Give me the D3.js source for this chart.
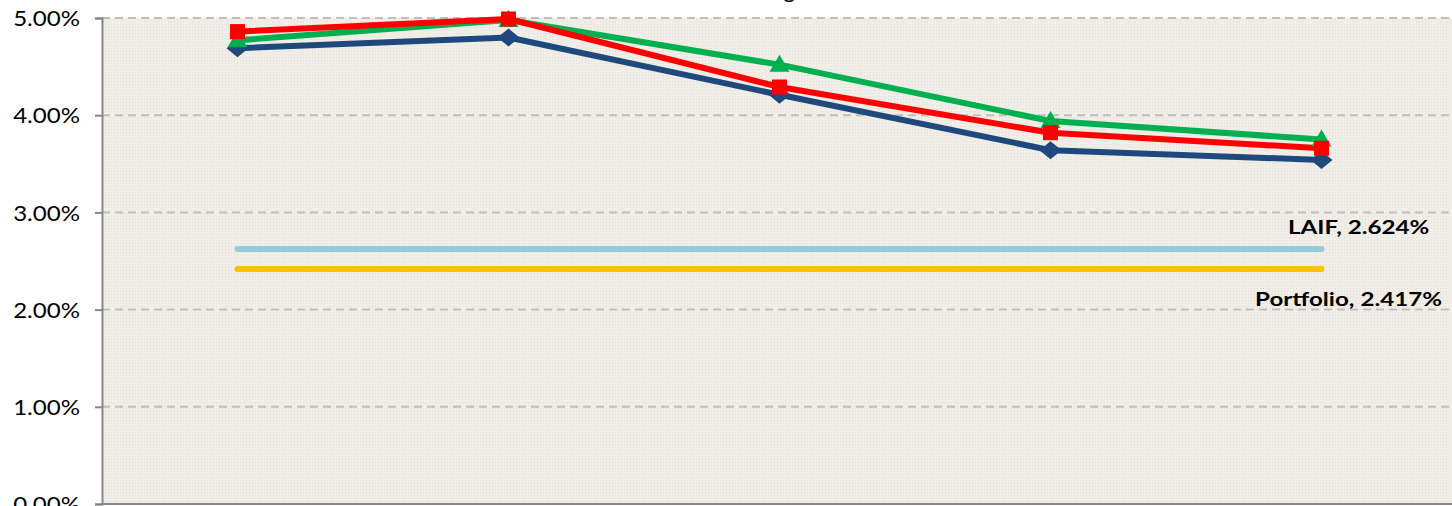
<!DOCTYPE html>
<html>
<head>
<meta charset="utf-8">
<script src="https://cdn.jsdelivr.net/npm/d3@7"></script>
<style>
  html, body { margin: 0; padding: 0; background: #ffffff; }
  svg { display: block; }
</style>
</head>
<body>
<svg id="chart" width="1452" height="506"></svg>
<script>
// ---- data ----
const categories = ["Period 1", "Period 2", "Period 3", "Period 4", "Period 5"];
const seriesNames = ["Series A", "Series B", "Series C"];
const seriesA = [0.0469, 0.0480, 0.0421, 0.0364, 0.0354]; // dark blue, diamonds
const seriesB = [0.0477, 0.0498, 0.0452, 0.0394, 0.0375]; // green, triangles
const seriesC = [0.0486, 0.0499, 0.0429, 0.0382, 0.0366]; // red, squares
const refNames = ["LAIF", "Portfolio"];
const refValues = [0.02624, 0.02417];
const refLabels = ["LAIF, 2.624%", "Portfolio, 2.417%"];
const yTicks = [0, 0.01, 0.02, 0.03, 0.04, 0.05];
const titleText = "Yield Averages";

(function () {
// ---- layout ----
const svg = d3.select("#chart");
const pLeft = 102, pTop = 18, pBottom = 504, step = 271;
const pRight = pLeft + step * categories.length;

const x = d3.scalePoint().domain(categories).range([pLeft, pRight]).padding(0.5);
const y = d3.scaleLinear().domain([0, 0.05]).range([pBottom, pTop]);

// background pattern
const defs = svg.append("defs");
const pat = defs.append("pattern").attr("id", "dots").attr("patternUnits", "userSpaceOnUse")
  .attr("width", 3).attr("height", 3);
pat.append("rect").attr("width", 3).attr("height", 3).attr("fill", "#F0EEE6");
pat.append("rect").attr("width", 1).attr("height", 1).attr("fill", "#E2E0D6");

svg.append("rect").attr("x", pLeft).attr("y", pTop).attr("width", pRight - pLeft).attr("height", pBottom - pTop)
  .attr("fill", "url(#dots)");

// title (mostly cut off above, as in the reference)
svg.append("text").attr("x", 675).attr("y", -2)
  .attr("font-family", "Lato, sans-serif").attr("font-size", 22).attr("fill", "#000")
  .text(titleText);

// gridlines
svg.append("g").selectAll("line").data(yTicks.filter(d => d > 0)).join("line")
  .attr("x1", pLeft).attr("x2", pRight)
  .attr("y1", d => y(d)).attr("y2", d => y(d))
  .attr("stroke", "#C0BFBC").attr("stroke-width", 2).attr("stroke-dasharray", "8,5");

// y axis
const yAxis = d3.axisLeft(y).tickValues(yTicks).tickFormat(d3.format(".2%")).tickSize(7).tickPadding(14);
const ga = svg.append("g").attr("transform", `translate(${pLeft},0)`).call(yAxis);
ga.select(".domain").attr("stroke", "#868686").attr("stroke-width", 2);
ga.selectAll(".tick line").attr("stroke", "#868686").attr("stroke-width", 2);
ga.selectAll(".tick text").attr("font-family", "Lato, sans-serif").attr("font-size", 21.5)
  .attr("fill", "#000").attr("dy", "0.36em")
  .attr("transform", "scale(1.12,1)").attr("x", -22 / 1.12);

// x axis (bottom line)
svg.append("line").attr("x1", pLeft).attr("x2", pRight).attr("y1", pBottom).attr("y2", pBottom)
  .attr("stroke", "#868686").attr("stroke-width", 2);

// reference lines
const refColors = ["#92CDDC", "#FFC000"];
refValues.forEach((v, i) => {
  svg.append("line")
    .attr("x1", x(categories[0])).attr("x2", x(categories[categories.length - 1]))
    .attr("y1", y(v)).attr("y2", y(v))
    .attr("stroke", refColors[i]).attr("stroke-width", 6).attr("stroke-linecap", "round");
});
const refLabelPos = [{ x: 1288, y: 234 }, { x: 1255, y: 306 }];
refLabels.forEach((t, i) => {
  svg.append("text").attr("x", 0).attr("y", 0)
    .attr("transform", `translate(${refLabelPos[i].x},${refLabelPos[i].y}) scale(1.24,1)`)
    .attr("font-family", "Lato, sans-serif").attr("font-weight", "bold").attr("font-size", 19.5)
    .attr("fill", "#000").text(t);
});

// series
const series = [
  { name: seriesNames[0], values: seriesA, color: "#1F497D", marker: "diamond" },
  { name: seriesNames[1], values: seriesB, color: "#00B050", marker: "triangle" },
  { name: seriesNames[2], values: seriesC, color: "#FF0000", marker: "square" }
];
const line = d3.line().x((d, i) => x(categories[i])).y(d => y(d));

series.forEach(s => {
  svg.append("path").datum(s.values).attr("d", line)
    .attr("fill", "none").attr("stroke", s.color).attr("stroke-width", 6).attr("stroke-linejoin", "round");
});
series.forEach(s => {
  const g = svg.append("g");
  s.values.forEach((v, i) => {
    const cx = x(categories[i]), cy = y(v);
    if (s.marker === "diamond") {
      g.append("path").attr("d", `M${cx},${cy - 9}L${cx + 11},${cy}L${cx},${cy + 9}L${cx - 11},${cy}Z`).attr("fill", s.color);
    } else if (s.marker === "triangle") {
      g.append("path").attr("d", `M${cx},${cy - 10}L${cx + 10},${cy + 7}L${cx - 10},${cy + 7}Z`).attr("fill", s.color);
    } else {
      g.append("rect").attr("x", cx - 7.5).attr("y", cy - 7.5).attr("width", 15).attr("height", 15).attr("fill", s.color);
    }
  });
});
})();
</script>
</body>
</html>
